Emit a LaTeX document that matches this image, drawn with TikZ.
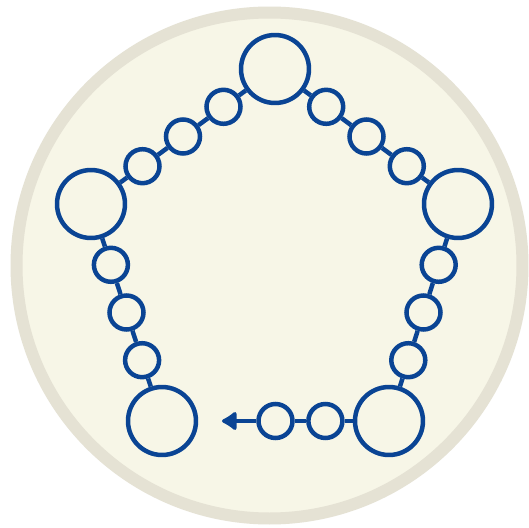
\documentclass[tikz,border=0pt]{standalone}
\usetikzlibrary{arrows.meta}
\definecolor{bead}{RGB}{10,68,148}
\definecolor{dish}{RGB}{247,246,231}
\definecolor{rim}{RGB}{229,226,212}
\begin{document}
\begin{tikzpicture}[x=.02cm,y=-.02cm,
  big/.style={circle,draw=bead,line width=.09cm,minimum size=1.36cm,inner sep=0pt},
  small/.style={circle,draw=bead,line width=.09cm,minimum size=.68cm,inner sep=0pt},
  link/.style={draw=bead,line width=.09cm}]
  \useasboundingbox[fill=white] (0,0) rectangle (529,528);
  \draw[rim,fill=dish,line width=.24cm] (269.5,265.5) circle (253);
  % corners of the ring
  \node[big] (c1) at (162,421) {};
  \node[big] (c2) at (91,204) {};
  \node[big] (c3) at (275,69) {};
  \node[big] (c4) at (458,204) {};
  \node[big] (c5) at (389,421) {};
  % beads between them
  \node[small] (b1) at (142.1,360.2) {};
  \node[small] (b2) at (126.5,312.5) {};
  \node[small] (b3) at (110.9,264.8) {};
  \node[small] (b4) at (142.5,166.2) {};
  \node[small] (b5) at (183,136.5) {};
  \node[small] (b6) at (223.5,106.8) {};
  \node[small] (b7) at (326.2,106.8) {};
  \node[small] (b8) at (366.5,136.5) {};
  \node[small] (b9) at (406.8,166.2) {};
  \node[small] (b10) at (438.7,264.8) {};
  \node[small] (b11) at (423.5,312.5) {};
  \node[small] (b12) at (408.3,360.2) {};
  \node[small] (b13) at (325.4,421) {};
  \node[small] (b14) at (275.5,421) {};
  \coordinate (tip) at (222,421);
  % links
  \draw[link] (c1) -- (b1) -- (b2) -- (b3) -- (c2);
  \draw[link] (c2) -- (b4) -- (b5) -- (b6) -- (c3);
  \draw[link] (c3) -- (b7) -- (b8) -- (b9) -- (c4);
  \draw[link] (c4) -- (b10) -- (b11) -- (b12) -- (c5);
  \draw[link,-{Latex[round,length=.34cm,width=.46cm]}] (c5) -- (b13) -- (b14) -- (tip);
\end{tikzpicture}
\end{document}
